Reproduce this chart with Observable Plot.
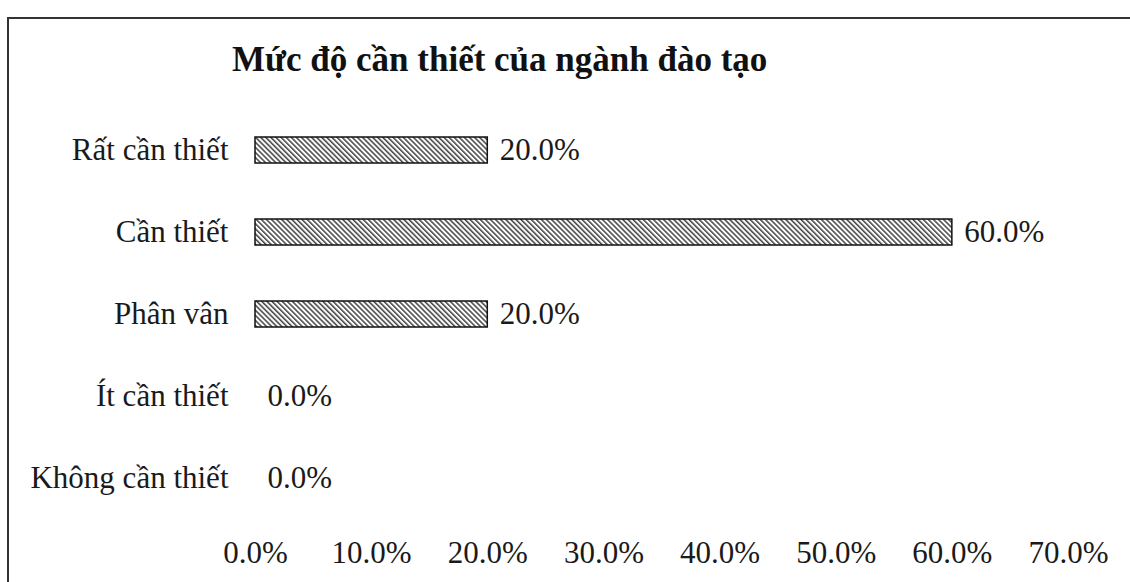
<!DOCTYPE html>
<html><head><meta charset="utf-8">
<script src="https://cdn.jsdelivr.net/npm/d3@7"></script>
<script src="https://cdn.jsdelivr.net/npm/@observablehq/plot@0.6"></script>
<style>
body{margin:0;background:#fff;}
#wrap{position:relative;width:1130px;height:582px;overflow:hidden;background:#fff;}
#frame{position:absolute;left:7px;top:17px;width:1130px;height:600px;border-left:2px solid #333;border-top:2px solid #333;box-sizing:border-box;}
#title{position:absolute;left:232px;top:42px;font:bold 35px "Liberation Serif";line-height:1;color:#111;white-space:nowrap;}
#chart{position:absolute;left:0;top:0;}
</style></head>
<body><div id="wrap"><div id="frame"></div><div id="title"></div><div id="chart"></div></div>
<script>
const title = "Mức độ cần thiết của ngành đào tạo";
const categories = ["Rất cần thiết", "Cần thiết", "Phân vân", "Ít cần thiết", "Không cần thiết"];
const values = [20, 60, 20, 0, 0];
const xTicks = [0, 10, 20, 30, 40, 50, 60, 70];

document.getElementById("title").textContent = title;
const data = categories.map((c, i) => ({category: c, value: values[i]}));
const fmt = d => d.toFixed(1) + "%";

const plot = Plot.plot({
  width: 1130, height: 582,
  marginLeft: 255, marginRight: 62, marginTop: 109, marginBottom: 62,
  style: {fontFamily: "Liberation Serif", fontSize: "31px", color: "#1a1a1a", background: "transparent"},
  x: {domain: [0, 70], ticks: xTicks, tickFormat: fmt, tickSize: 0, tickPadding: 20, label: null},
  y: {domain: categories, paddingInner: 0.68, paddingOuter: 0.34, align: 0.5, tickSize: 0, tickPadding: 27, label: null},
  marks: [
    Plot.barX(data.filter(d => d.value > 0), {x: "value", y: "category", fill: "url(#hatch)", stroke: "#111", strokeWidth: 1.5}),
    Plot.text(data, {x: "value", y: "category", text: d => fmt(d.value), textAnchor: "start", dx: 12, fontSize: 31, fill: "#1a1a1a"})
  ]
});
const svg = d3.select(plot);
const defs = svg.insert("defs", ":first-child");
const pat = defs.append("pattern").attr("id", "hatch").attr("patternUnits", "userSpaceOnUse")
  .attr("width", 3.6).attr("height", 3.6).attr("patternTransform", "rotate(-45)");
pat.append("rect").attr("width", 3.6).attr("height", 3.6).attr("fill", "#fff");
pat.append("line").attr("x1", 0.8).attr("y1", 0).attr("x2", 0.8).attr("y2", 3.6).attr("stroke", "#222").attr("stroke-width", 1.3);
document.getElementById("chart").appendChild(plot);
</script>
</body></html>
